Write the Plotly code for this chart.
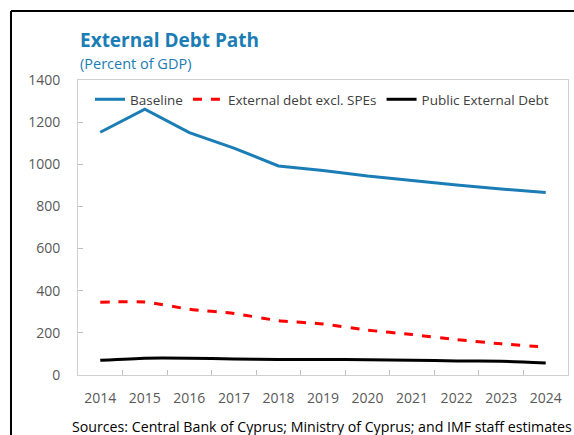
import plotly.graph_objects as go

years = ["2014", "2015", "2016", "2017", "2018", "2019", "2020", "2021", "2022", "2023", "2024"]
baseline = [1152, 1262, 1150, 1077, 992, 970, 944, 922, 902, 883, 866]
excl_spes = [345, 347, 312, 292, 258, 242, 213, 192, 168, 148, 132]
public_ext = [70, 80, 80, 76, 74, 74, 72, 70, 67, 65, 57]
y_ticks = [0, 200, 400, 600, 800, 1000, 1200, 1400]

BLUE = "#1B7DB5"
FONT = "Open Sans, Noto Sans, sans-serif"

fig = go.Figure()
fig.add_trace(go.Scatter(x=years, y=baseline, mode="lines", name="Baseline",
                         line=dict(color=BLUE, width=3)))
fig.add_trace(go.Scatter(x=years, y=excl_spes, mode="lines", name="External debt excl. SPEs",
                         line=dict(color="#FF0000", width=3, dash="dash", shape="spline", smoothing=0.5)))
fig.add_trace(go.Scatter(x=years, y=public_ext, mode="lines", name="Public External Debt",
                         line=dict(color="#000000", width=3, shape="spline", smoothing=0.5)))

L, R, T, B = 78, 6, 80, 60
W, H = 574, 435
pw, ph = W - L - R, H - T - B

def px(x):
    return (x - L) / pw

def py(y):
    return (H - B - y) / ph

fig.update_layout(
    width=W, height=H,
    margin=dict(l=L, r=R, t=T, b=B, pad=0),
    paper_bgcolor="white", plot_bgcolor="white",
    font=dict(family=FONT, color="#595959", size=15),
    showlegend=True,
    legend=dict(orientation="h", x=px(90), y=py(84), xanchor="left", yanchor="top",
                font=dict(size=13.5, color="#404040"), bgcolor="rgba(0,0,0,0)",
                itemwidth=30, tracegroupgap=0),
    xaxis=dict(type="category", range=[-0.5, 10.5], showgrid=False,
               showline=True, linecolor="#D0D0D0", linewidth=1, mirror=True,
               ticks="inside", ticklen=5, tickcolor="#BFBFBF",
               tickson="boundaries", tickfont=dict(size=14, color="#595959"),
               ticklabelstandoff=10, fixedrange=True),
    yaxis=dict(range=[0, 1400], tickvals=y_ticks, showgrid=False,
               showline=True, linecolor="#D0D0D0", linewidth=1, mirror=True,
               ticks="inside", ticklen=5, tickcolor="#BFBFBF",
               tickfont=dict(size=14, color="#595959"), ticklabelstandoff=14,
               zeroline=False, fixedrange=True),
    annotations=[
        dict(text="<b>External Debt Path</b>", xref="paper", yref="paper",
             x=px(78), y=py(40), xanchor="left", yanchor="middle", showarrow=False,
             font=dict(size=19, color=BLUE, family=FONT)),
        dict(text="(Percent of GDP)", xref="paper", yref="paper",
             x=px(78), y=py(63), xanchor="left", yanchor="middle", showarrow=False,
             font=dict(size=14.5, color=BLUE, family=FONT)),
        dict(text="Sources: Central Bank of Cyprus; Ministry of Cyprus; and IMF staff estimates",
             xref="paper", yref="paper", x=px(574), y=py(427), xanchor="right", yanchor="middle",
             showarrow=False, font=dict(size=14.2, color="#000000", family=FONT)),
    ],
    shapes=[
        dict(type="line", xref="paper", yref="paper", x0=px(11), x1=px(574), y0=py(11), y1=py(11),
             line=dict(color="black", width=2)),
        dict(type="line", xref="paper", yref="paper", x0=px(11), x1=px(11), y0=py(11), y1=py(435),
             line=dict(color="black", width=2)),
    ],
)

fig.write_html("out.html", config={"displayModeBar": False},
               post_script="document.body.style.margin='0';document.body.style.overflow='hidden';")
